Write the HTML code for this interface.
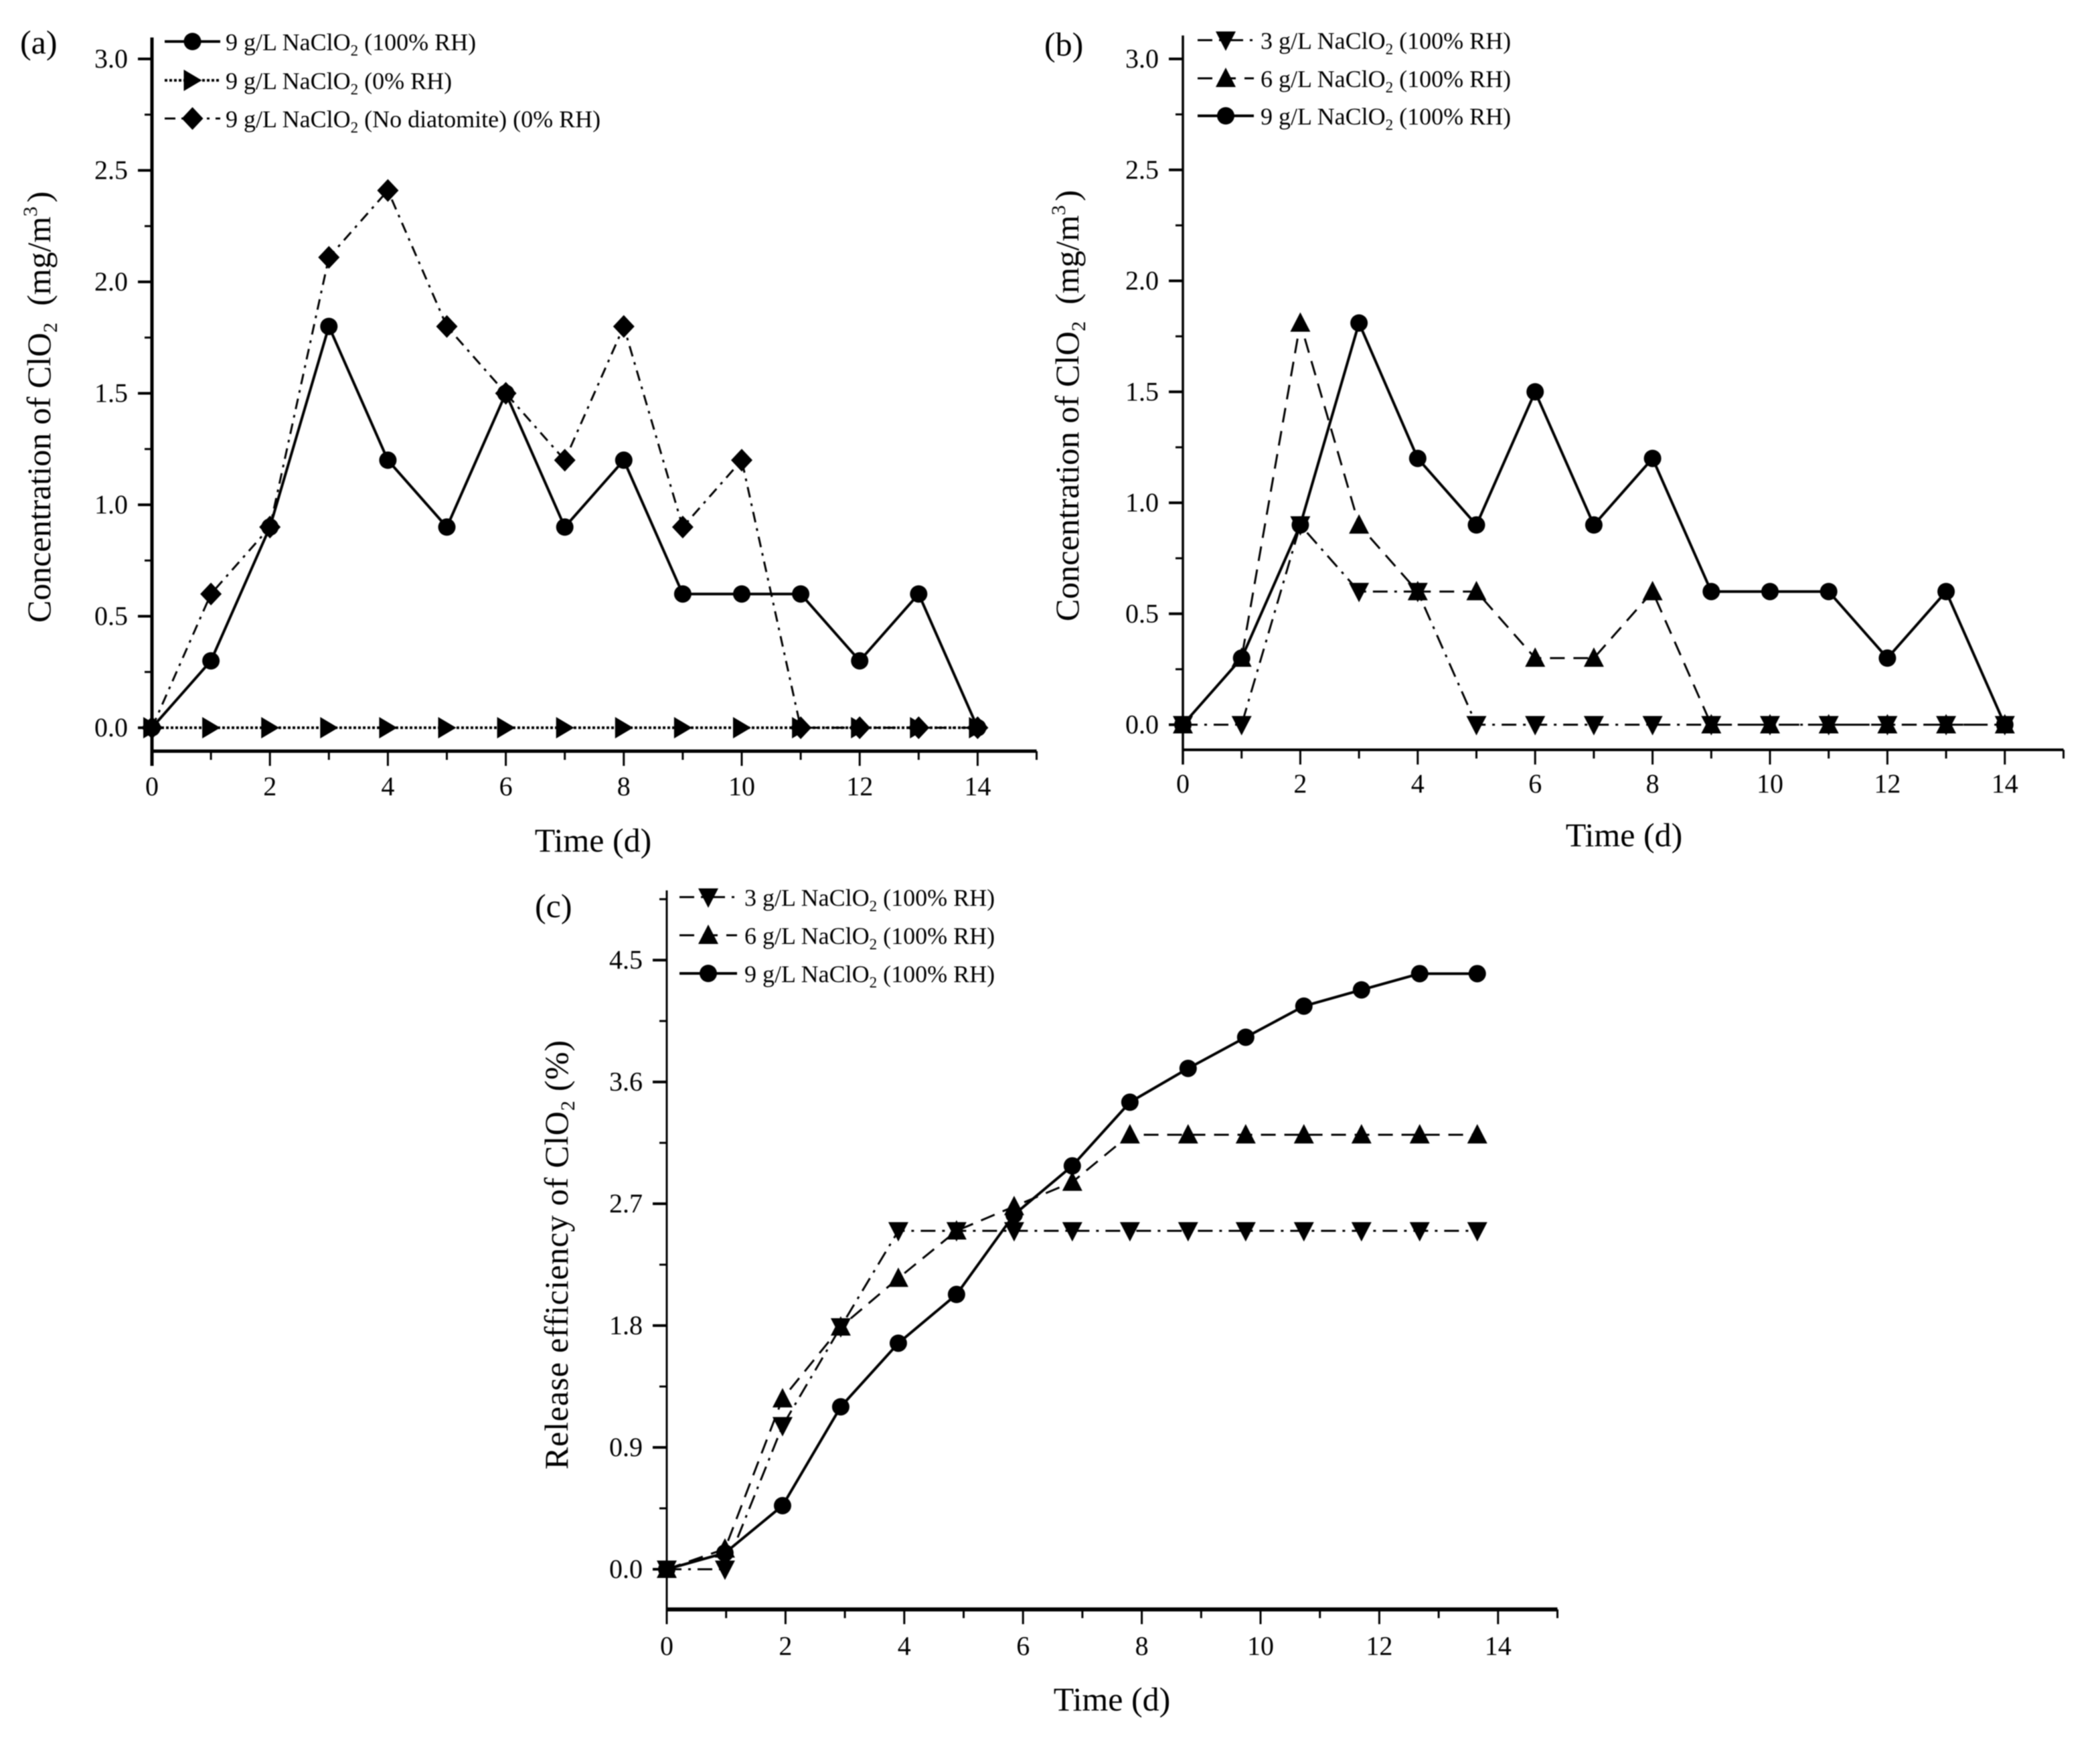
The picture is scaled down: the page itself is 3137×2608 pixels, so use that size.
<!DOCTYPE html>
<html lang="en">
<head>
<meta charset="utf-8">
<title>ClO2 concentration and release efficiency</title>
<style>
html,body{margin:0;padding:0;background:#fff;}
svg{display:block;filter:blur(0.8px);}
text{font-family:"Liberation Serif",serif;fill:#000;}
.tick{font-size:40px;}
.leg{font-size:36px;}
.title{font-size:50px;}
</style>
</head>
<body>
<svg id="fig" xmlns="http://www.w3.org/2000/svg" width="3137" height="2608" viewBox="0 0 3137 2608">
<rect width="3137" height="2608" fill="#fff"/>
<g id="panel-a">
  <text x="30" y="80" class="title">(a)</text>
  <text x="886" y="1272" class="title" text-anchor="middle">Time (d)</text>
  <text class="title" text-anchor="middle" transform="translate(75,608) rotate(-90)">Concentration of ClO<tspan font-size="30" dy="10">2</tspan><tspan dy="-10">&#160;&#160;(mg/m</tspan><tspan font-size="30" dy="-20">3</tspan><tspan dy="20" dx="6">)</tspan></text>
  <text class="leg" x="337" y="75">9 g/L NaClO<tspan font-size="23" dy="8">2</tspan><tspan dy="-8"> (100% RH)</tspan></text>
  <text class="leg" x="337" y="133">9 g/L NaClO<tspan font-size="23" dy="8">2</tspan><tspan dy="-8"> (0% RH)</tspan></text>
  <text class="leg" x="337" y="190">9 g/L NaClO<tspan font-size="23" dy="8">2</tspan><tspan dy="-8"> (No diatomite) (0% RH)</tspan></text>
</g>
<g id="panel-b">
  <text x="1560" y="83" class="title">(b)</text>
  <text x="2426" y="1264" class="title" text-anchor="middle">Time (d)</text>
  <text class="title" text-anchor="middle" transform="translate(1611,606) rotate(-90)">Concentration of ClO<tspan font-size="30" dy="10">2</tspan><tspan dy="-10">&#160;&#160;(mg/m</tspan><tspan font-size="30" dy="-20">3</tspan><tspan dy="20" dx="6">)</tspan></text>
  <text class="leg" x="1883" y="73">3 g/L NaClO<tspan font-size="23" dy="8">2</tspan><tspan dy="-8"> (100% RH)</tspan></text>
  <text class="leg" x="1883" y="130">6 g/L NaClO<tspan font-size="23" dy="8">2</tspan><tspan dy="-8"> (100% RH)</tspan></text>
  <text class="leg" x="1883" y="186">9 g/L NaClO<tspan font-size="23" dy="8">2</tspan><tspan dy="-8"> (100% RH)</tspan></text>
</g>
<g id="panel-c">
  <text x="799" y="1370" class="title">(c)</text>
  <text x="1661" y="2555" class="title" text-anchor="middle">Time (d)</text>
  <text class="title" text-anchor="middle" letter-spacing="0.75" transform="translate(848,1874) rotate(-90)">Release efficiency of ClO<tspan font-size="30" dy="10">2</tspan><tspan dy="-10">&#160;(%)</tspan></text>
  <text class="leg" x="1112" y="1353">3 g/L NaClO<tspan font-size="23" dy="8">2</tspan><tspan dy="-8"> (100% RH)</tspan></text>
  <text class="leg" x="1112" y="1410">6 g/L NaClO<tspan font-size="23" dy="8">2</tspan><tspan dy="-8"> (100% RH)</tspan></text>
  <text class="leg" x="1112" y="1467">9 g/L NaClO<tspan font-size="23" dy="8">2</tspan><tspan dy="-8"> (100% RH)</tspan></text>
</g>
</svg>
<script>
// ---- chart data ----
var days = [0,1,2,3,4,5,6,7,8,9,10,11,12,13,14];
var daysC = [0,0.98,1.95,2.93,3.9,4.88,5.85,6.83,7.8,8.78,9.75,10.73,11.7,12.68,13.65];
var xTickLabels = [0,2,4,6,8,10,12,14];
var yTickLabelsConc = ["0.0","0.5","1.0","1.5","2.0","2.5","3.0"];
var yTickLabelsEff = ["0.0","0.9","1.8","2.7","3.6","4.5"];
var aWet9 = [0,0.3,0.9,1.8,1.2,0.9,1.5,0.9,1.2,0.6,0.6,0.6,0.3,0.6,0];
var aDry9 = [0,0,0,0,0,0,0,0,0,0,0,0,0,0,0];
var aNoDiatomite9 = [0,0.6,0.9,2.11,2.41,1.8,1.5,1.2,1.8,0.9,1.2,0,0,0,0];
var bConc3 = [0,0,0.9,0.6,0.6,0,0,0,0,0,0,0,0,0,0];
var bConc6 = [0,0.3,1.81,0.9,0.6,0.6,0.3,0.3,0.6,0,0,0,0,0,0];
var bConc9 = [0,0.3,0.9,1.81,1.2,0.9,1.5,0.9,1.2,0.6,0.6,0.6,0.3,0.6,0];
var cEff3 = [0,0,1.06,1.79,2.5,2.5,2.5,2.5,2.5,2.5,2.5,2.5,2.5,2.5,2.5];
var cEff6 = [0,0.15,1.26,1.79,2.15,2.5,2.68,2.86,3.21,3.21,3.21,3.21,3.21,3.21,3.21];
var cEff9 = [0,0.12,0.47,1.2,1.67,2.03,2.62,2.98,3.45,3.7,3.93,4.16,4.28,4.4,4.4];

var NS = 'http://www.w3.org/2000/svg';
var DASH_DOT = '22 10 4 10';
var DASH = '22 13';
var DOTTED = '4 3';
var DASH_DOT_DOT = '16 9 4 9';

function node(parent, tag, props) {
  var el = document.createElementNS(NS, tag);
  for (var k in props) { el.setAttribute(k, props[k]); }
  parent.appendChild(el);
  return el;
}

function markerShape(parent, kind, cx, cy) {
  var el;
  if (kind === 'circle') {
    el = node(parent, 'circle', {cx: cx, cy: cy, r: 13, fill: '#000'});
  } else {
    var pts;
    if (kind === 'down') { pts = [[-15,-13],[15,-13],[0,16]]; }
    if (kind === 'up') { pts = [[-15,13],[15,13],[0,-16]]; }
    if (kind === 'right') { pts = [[-13,-16],[-13,16],[14,0]]; }
    if (kind === 'diamond') { pts = [[0,-17],[16,0],[0,17],[-16,0]]; }
    el = node(parent, 'polygon', {points: pts.map(function (p) { return (cx + p[0]) + ',' + (cy + p[1]); }).join(' '), fill: '#000'});
  }
  return el;
}

function makeAxes(panelId, o) {
  var g = document.getElementById(panelId);
  var xs = function (v) { return o.x0 + v * o.xUnit; };
  var ys = function (v) { return o.y0 - v * o.yUnit; };
  var yAxis = node(g, 'line', {x1: o.x0, x2: o.x0, y1: o.top, y2: o.axisY + 22, stroke: '#000', 'stroke-width': o.yAxisW});
  
  
  var xAxis = node(g, 'line', {x1: o.x0, x2: xs(o.xMax), y1: o.axisY, y2: o.axisY, stroke: '#000', 'stroke-width': o.xAxisW});
  
  

  o.xLabels.forEach(function (t) {
    var tick = node(g, 'line', {x1: xs(t), x2: xs(t), y1: o.axisY, y2: o.axisY + 22, stroke: '#000', 'stroke-width': 3});
    
    
    var lab = node(g, 'text', {x: xs(t), y: o.xLabelY, 'text-anchor': 'middle', 'class': 'tick'});
    lab.textContent = String(t);
    
    
    if (t + 1 <= o.xMax) {
      var minor = node(g, 'line', {x1: xs(t + 1), x2: xs(t + 1), y1: o.axisY, y2: o.axisY + 13, stroke: '#000', 'stroke-width': 3});
      
      
    }
  });

  o.yLabels.forEach(function (t, i) {
    var v = parseFloat(t);
    var tick = node(g, 'line', {x1: o.x0 - 21, x2: o.x0, y1: ys(v), y2: ys(v), stroke: '#000', 'stroke-width': 4});
    
    
    var lab = node(g, 'text', {x: o.x0 - 36, y: ys(v) + 13, 'text-anchor': 'end', 'class': 'tick'});
    lab.textContent = t;
    
    
    var next = (v + o.yStep / 2);
    if (ys(next) > o.top) {
      var minor = node(g, 'line', {x1: o.x0 - 11, x2: o.x0, y1: ys(next), y2: ys(next), stroke: '#000', 'stroke-width': 3});
      
      
    }
  });
  return {g: g, xs: xs, ys: ys};
}

function drawSeries(ax, name, xVals, yVals, kind, dash, width) {
  var s = node(ax.g, 'g', {});
  
  
  var pts = xVals.map(function (x, i) { return ax.xs(x) + ',' + ax.ys(yVals[i]); }).join(' ');
  var line = node(s, 'polyline', {points: pts, fill: 'none', stroke: '#000', 'stroke-width': width, 'stroke-linejoin': 'round'});
  
  
  if (dash) { line.setAttribute('stroke-dasharray', dash); }
  xVals.forEach(function (x, i) {
    var m = markerShape(s, kind, ax.xs(x), ax.ys(yVals[i]));
    
    
  });
}

function legendKey(panelId, name, x1, x2, y, kind, dash, width) {
  var g = document.getElementById(panelId);
  var s = node(g, 'g', {});
  
  
  var line = node(s, 'line', {x1: x1, x2: x2, y1: y, y2: y, stroke: '#000', 'stroke-width': width});
  if (dash) { line.setAttribute('stroke-dasharray', dash); }
  markerShape(s, kind, (x1 + x2) / 2, y);
}

// Panel (a)
var axA = makeAxes('panel-a', {x0: 227, xUnit: 88.1, y0: 1087, yUnit: 333, top: 56, axisY: 1122, xMax: 15, yStep: 0.5, yAxisW: 5, xAxisW: 5, xLabels: xTickLabels, yLabels: yTickLabelsConc, xLabelY: 1188});
drawSeries(axA, 'series-a-9gl-100rh', days, aWet9, 'circle', null, 4);
drawSeries(axA, 'series-a-9gl-0rh', days, aDry9, 'right', DOTTED, 4);
drawSeries(axA, 'series-a-9gl-no-diatomite', days, aNoDiatomite9, 'diamond', DASH_DOT_DOT, 3);
legendKey('panel-a', 'legend-key-a-100rh', 246, 329, 62, 'circle', null, 4);
legendKey('panel-a', 'legend-key-a-0rh', 246, 329, 120, 'right', DOTTED, 4);
legendKey('panel-a', 'legend-key-a-no-diatomite', 246, 329, 177, 'diamond', DASH_DOT_DOT, 3);

// Panel (b)
var axB = makeAxes('panel-b', {x0: 1767, xUnit: 87.7, y0: 1082.5, yUnit: 331.5, top: 53, axisY: 1120, xMax: 15, yStep: 0.5, yAxisW: 3.5, xAxisW: 4, xLabels: xTickLabels, yLabels: yTickLabelsConc, xLabelY: 1184});
drawSeries(axB, 'series-b-3gl', days, bConc3, 'down', DASH_DOT, 3);
drawSeries(axB, 'series-b-6gl', days, bConc6, 'up', DASH, 3);
drawSeries(axB, 'series-b-9gl', days, bConc9, 'circle', null, 4);
legendKey('panel-b', 'legend-key-b-3gl', 1789, 1873, 60, 'down', DASH_DOT, 3);
legendKey('panel-b', 'legend-key-b-6gl', 1789, 1873, 117, 'up', DASH, 3);
legendKey('panel-b', 'legend-key-b-9gl', 1789, 1873, 173, 'circle', null, 4);

// Panel (c)
var axC = makeAxes('panel-c', {x0: 996, xUnit: 88.7, y0: 2344, yUnit: 202.2, top: 1330, axisY: 2404, xMax: 15, yStep: 0.9, yAxisW: 3, xAxisW: 6, xLabels: xTickLabels, yLabels: yTickLabelsEff, xLabelY: 2472});
drawSeries(axC, 'series-c-3gl', daysC, cEff3, 'down', DASH_DOT, 3);
drawSeries(axC, 'series-c-6gl', daysC, cEff6, 'up', DASH, 3);
drawSeries(axC, 'series-c-9gl', daysC, cEff9, 'circle', null, 4);
legendKey('panel-c', 'legend-key-c-3gl', 1015, 1101, 1340, 'down', DASH_DOT, 3);
legendKey('panel-c', 'legend-key-c-6gl', 1015, 1101, 1397, 'up', DASH, 3);
legendKey('panel-c', 'legend-key-c-9gl', 1015, 1101, 1454, 'circle', null, 4);
</script>
</body>
</html>
